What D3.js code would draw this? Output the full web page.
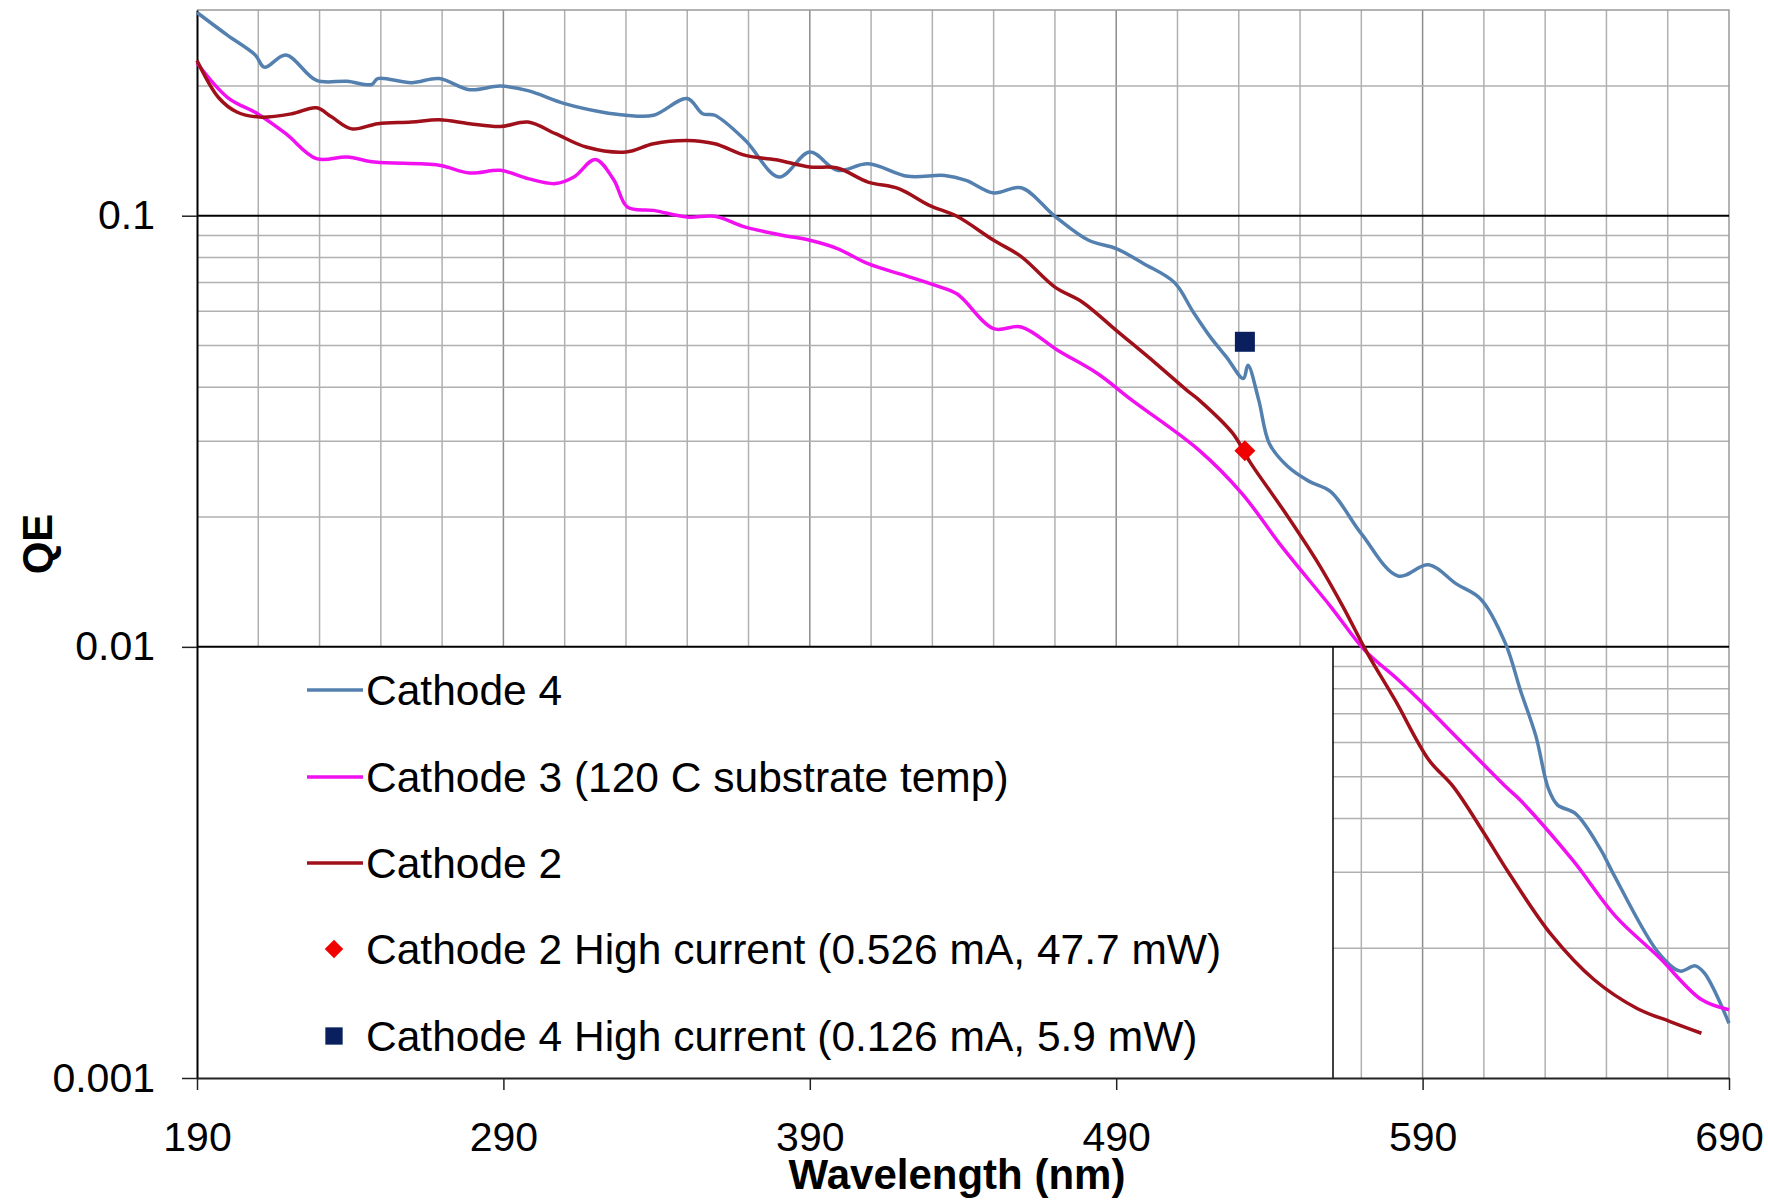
<!DOCTYPE html>
<html>
<head>
<meta charset="utf-8">
<script src="https://cdn.jsdelivr.net/npm/d3@7"></script>
<style>
  body { margin: 0; background: #fff; }
  svg { display: block; font-family: "Liberation Sans", Arial, sans-serif; }
</style>
</head>
<body>
<script>
// values
const c4Nm = [190, 200, 209, 212, 219, 229, 239, 247, 249, 260, 269, 279, 289, 298, 310, 322, 330, 339, 350, 355, 359, 369, 380, 390, 399, 409, 422, 434, 441, 450, 459, 470, 481, 490, 499, 509, 515, 521, 526, 531.5, 533, 536.5, 540, 546, 553, 560, 570, 582, 592, 601, 609, 617, 622, 627, 631, 634, 640, 648, 652, 667, 674, 679, 682, 690];
const c4QE = [0.296, 0.262, 0.236, 0.221, 0.236, 0.206, 0.205, 0.2015, 0.208, 0.2035, 0.208, 0.196, 0.1998, 0.195, 0.182, 0.174, 0.171, 0.171, 0.187, 0.1724, 0.171, 0.1495, 0.123, 0.1405, 0.1274, 0.132, 0.1234, 0.124, 0.1208, 0.1129, 0.1161, 0.0997, 0.0877, 0.0839, 0.0774, 0.070, 0.060, 0.052, 0.047, 0.0419, 0.045, 0.0374, 0.0296, 0.0262, 0.0242, 0.0229, 0.0183, 0.0146, 0.0155, 0.0140, 0.0129, 0.0102, 0.0079, 0.0062, 0.0047, 0.0043, 0.0041, 0.0034, 0.0030, 0.00195, 0.00177, 0.00182, 0.00175, 0.00134];

const c3Nm = [190, 200, 210, 219, 229, 239, 248, 269, 279, 289, 298, 307, 313, 320, 326, 330.5, 339, 350, 359, 369, 381, 390, 399, 409, 421, 431, 438, 450, 459, 471, 484, 495, 517, 531, 544, 560, 571, 582, 590, 603, 617, 622, 639, 653, 667, 681, 690];
const c3QE = [0.226, 0.188, 0.172, 0.155, 0.1356, 0.1368, 0.1332, 0.1309, 0.1256, 0.1274, 0.1219, 0.1187, 0.1229, 0.135, 0.1212, 0.1047, 0.1029, 0.0993, 0.0997, 0.0941, 0.0901, 0.0877, 0.0839, 0.0774, 0.0727, 0.0689, 0.0659, 0.0547, 0.0552, 0.0487, 0.043, 0.0374, 0.0286, 0.0227, 0.0171, 0.0124, 0.00984, 0.00839, 0.00741, 0.00598, 0.00475, 0.0044, 0.0032, 0.00237, 0.00191, 0.00152, 0.00144];

const c2Nm = [190, 197, 203, 210.5, 221, 229, 234, 240.5, 249, 260, 269, 279, 289, 298, 307, 317, 330, 339, 350, 359, 369, 379, 390, 399, 409, 419, 429, 438, 450, 459, 470, 479, 490, 503, 513, 517, 528, 534, 544.5, 556, 564, 572, 581, 592, 600, 610, 618, 632, 646, 660, 671, 681];
const c2QE = [0.229, 0.188, 0.174, 0.1693, 0.1724, 0.178, 0.1693, 0.159, 0.1635, 0.1649, 0.167, 0.1635, 0.161, 0.1649, 0.155, 0.1443, 0.1405, 0.1469, 0.1495, 0.1469, 0.138, 0.1348, 0.1297, 0.129, 0.1197, 0.1156, 0.1057, 0.0997, 0.0877, 0.0804, 0.0683, 0.063, 0.0542, 0.0454, 0.0394, 0.0374, 0.0313, 0.0266, 0.0208, 0.0156, 0.0124, 0.00966, 0.00753, 0.00547, 0.00474, 0.0037, 0.0030, 0.00215, 0.00169, 0.00145, 0.00135, 0.00127];

const c2HighNm = [532];
const c2HighQE = [0.0285];
const c4HighNm = [532];
const c4HighQE = [0.051];

const xTicks = [190, 290, 390, 490, 590, 690];
const yTicks = [0.001, 0.01, 0.1];
const legendLabels = [
  'Cathode 4',
  'Cathode 3 (120 C substrate temp)',
  'Cathode 2',
  'Cathode 2 High current (0.526 mA, 47.7 mW)',
  'Cathode 4 High current (0.126 mA, 5.9 mW)'
];

const blue = '#5480B0', magenta = '#F010F0', darkRed = '#A0101A';
const red = '#F00000', navy = '#0A1F5E';

const W = 1768, H = 1201;
const plotLeft = 197, plotRight = 1729, plotTop = 10, plotBottom = 1078;

const svg = d3.select('body').append('svg')
  .attr('width', W)
  .attr('height', H);

const x = d3.scaleLinear().domain([190, 690]).range([plotLeft, plotRight]);
const y = d3.scaleLog().domain([0.001, 0.3]).range([plotBottom, plotTop]);

// vertical grid every 20 nm
const vGrid = d3.range(210, 690, 20);
svg.append('g').selectAll('line')
  .data(vGrid)
  .enter()
  .append('line')
  .attr('x1', d => x(d)).attr('x2', d => x(d))
  .attr('y1', plotTop).attr('y2', plotBottom)
  .attr('stroke', d => (d - 190) % 100 === 0 ? '#8c8c8c' : '#b0b0b0')
  .attr('stroke-width', 1.5);

// minor log grid
let minor = [];
[0.001, 0.01, 0.1].forEach(p => {
  for (let k = 2; k <= 9; k++) {
    const v = +(p * k).toPrecision(3);
    if (v < 0.3) minor.push(v);
  }
});
svg.append('g').selectAll('line')
  .data(minor)
  .enter()
  .append('line')
  .attr('x1', plotLeft).attr('x2', plotRight)
  .attr('y1', d => y(d)).attr('y2', d => y(d))
  .attr('stroke', '#b0b0b0')
  .attr('stroke-width', 1.5);

// top and right border
svg.append('path')
  .attr('d', `M${plotLeft},${y(0.3)}H${plotRight}V${plotBottom}`)
  .attr('fill', 'none')
  .attr('stroke', '#9a9a9a')
  .attr('stroke-width', 1.5);

// legend box sits on the plot, covering the grid
const boxRight = 1333;
svg.append('rect')
  .attr('x', plotLeft)
  .attr('y', y(0.01))
  .attr('width', boxRight - plotLeft)
  .attr('height', plotBottom - y(0.01))
  .attr('fill', '#fff');
svg.append('line')
  .attr('x1', boxRight).attr('x2', boxRight)
  .attr('y1', y(0.01)).attr('y2', plotBottom)
  .attr('stroke', '#000')
  .attr('stroke-width', 1.5);

// major grid lines
svg.append('g').selectAll('line')
  .data([0.01, 0.1])
  .enter()
  .append('line')
  .attr('x1', plotLeft).attr('x2', plotRight)
  .attr('y1', d => y(d)).attr('y2', d => y(d))
  .attr('stroke', '#000')
  .attr('stroke-width', 2);

// axes
const yAxis = svg.append('g')
  .attr('transform', `translate(${plotLeft},0)`)
  .call(d3.axisLeft(y).tickValues(yTicks).tickFormat(d => String(d)).tickSize(15).tickPadding(27).tickSizeOuter(0));
const xAxis = svg.append('g')
  .attr('transform', `translate(0,${plotBottom})`)
  .call(d3.axisBottom(x).tickValues(xTicks).tickFormat(d3.format('d')).tickSize(12).tickPadding(32).tickSizeOuter(0));

[yAxis, xAxis].forEach(a => {
  a.select('.domain').attr('stroke', '#222').attr('stroke-width', 2);
  a.selectAll('.tick line').attr('stroke', '#222').attr('stroke-width', 1.5);
  a.selectAll('text')
    .attr('font-family', '"Liberation Sans", Arial, sans-serif')
    .attr('font-size', 41)
    .attr('fill', '#000');
});
yAxis.select('.domain').attr('stroke', '#000');

svg.append('text')
  .attr('x', 957)
  .attr('y', 1189)
  .attr('text-anchor', 'middle')
  .attr('font-size', 42)
  .attr('font-weight', 'bold')
  .text('Wavelength (nm)');

svg.append('text')
  .attr('transform', 'translate(52,544) rotate(-90)')
  .attr('text-anchor', 'middle')
  .attr('font-size', 42)
  .attr('font-weight', 'bold')
  .text('QE');

// curves
const line = d3.line()
  .x(d => x(d[0]))
  .y(d => y(d[1]))
  .curve(d3.curveCatmullRom.alpha(0.5));

const series = [
  { nm: c4Nm, qe: c4QE, color: blue },
  { nm: c3Nm, qe: c3QE, color: magenta },
  { nm: c2Nm, qe: c2QE, color: darkRed }
];

svg.append('g').selectAll('path')
  .data(series)
  .enter()
  .append('path')
  .attr('d', s => line(d3.zip(s.nm, s.qe)))
  .attr('fill', 'none')
  .attr('stroke', s => s.color)
  .attr('stroke-width', 3.5)
  .attr('stroke-linejoin', 'round');

// single high-current points
svg.append('g').selectAll('path')
  .data(d3.zip(c2HighNm, c2HighQE))
  .enter()
  .append('path')
  .attr('d', d3.symbol(d3.symbolSquare, 220))
  .attr('transform', d => `translate(${x(d[0])},${y(d[1])}) rotate(45)`)
  .attr('fill', red);

svg.append('g').selectAll('path')
  .data(d3.zip(c4HighNm, c4HighQE))
  .enter()
  .append('path')
  .attr('d', d3.symbol(d3.symbolSquare, 400))
  .attr('transform', d => `translate(${x(d[0])},${y(d[1])})`)
  .attr('fill', navy);

// legend
const rowY = [690, 777, 863, 949, 1036];
const leg = svg.append('g');
legendLabels.forEach((label, i) => {
  if (i < 3) {
    leg.append('line')
      .attr('x1', 307).attr('x2', 363)
      .attr('y1', rowY[i]).attr('y2', rowY[i])
      .attr('stroke', series[i].color)
      .attr('stroke-width', 3.5);
  } else if (i === 3) {
    leg.append('path')
      .attr('d', d3.symbol(d3.symbolSquare, 170))
      .attr('transform', `translate(334,${rowY[i]}) rotate(45)`)
      .attr('fill', red);
  } else {
    leg.append('path')
      .attr('d', d3.symbol(d3.symbolSquare, 300))
      .attr('transform', `translate(334,${rowY[i]})`)
      .attr('fill', navy);
  }
  leg.append('text')
    .attr('x', 366)
    .attr('y', rowY[i] + 15)
    .attr('font-size', 42.5)
    .text(label);
});
</script>
</body>
</html>
